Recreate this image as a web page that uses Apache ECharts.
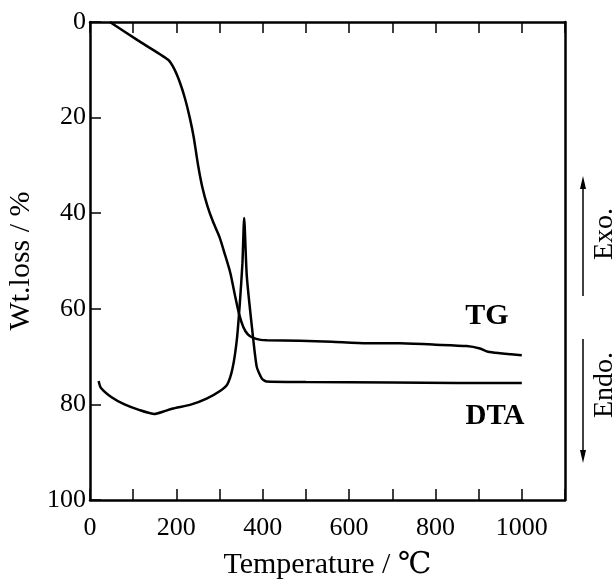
<!DOCTYPE html>
<html>
<head>
<meta charset="utf-8">
<script src="https://cdn.jsdelivr.net/npm/echarts@6/dist/echarts.min.js"></script>
<style>html,body{margin:0;padding:0;background:#fff}#c{width:614px;height:581px}</style>
</head>
<body>
<div id="c"></div>
<script>
// Data
var tgTemp = [46, 110, 181, 195, 208, 220, 231, 240, 250, 260, 272, 285, 300, 312, 325, 336, 345, 355, 365, 378, 395, 410, 486, 560, 640, 718, 800, 872, 903, 922, 949, 975, 1000];
var tgLoss = [0, 3.8, 7.9, 9.8, 12.6, 16, 20, 24, 29.8, 34.5, 38.5, 41.8, 45, 48.5, 52.5, 57.3, 61, 63.8, 65.3, 66.1, 66.5, 66.6, 66.7, 66.9, 67.2, 67.2, 67.5, 67.8, 68.3, 69, 69.3, 69.5, 69.7];
var dtaTemp = [20, 25, 50, 80, 115, 149, 170, 190, 235, 270, 301, 318, 330, 340, 347, 353, 357, 363, 374, 386, 398, 409, 500, 700, 850, 1000];
var dtaVal = [75.1, 76.5, 78.5, 80, 81.2, 82, 81.5, 80.9, 80, 78.8, 77.2, 75.8, 72.5, 66.5, 58.8, 50.5, 41, 53, 63, 72.1, 74.6, 75.2, 75.3, 75.4, 75.5, 75.5];
var xTickLabels = [0, 200, 400, 600, 800, 1000];
var yTickLabels = [0, 20, 40, 60, 80, 100];
var xTitle = 'Temperature / ℃';
var yTitle = 'Wt.loss / %';

function zip(a, b) { return a.map(function (v, i) { return [v, b[i]]; }); }

var serif = '"Liberation Serif", "DejaVu Serif", serif';
var chart = echarts.init(document.getElementById('c'), null, { renderer: 'canvas' });
function line() { return { show: true, onZero: false, lineStyle: { color: '#000', width: 2.5 } }; }
function tick() { return { show: true, inside: true, length: 11, lineStyle: { color: '#000', width: 1.5 } }; }
var option = {
  backgroundColor: '#fff',
  animation: false,
  grid: { left: 90, right: 49, top: 22, bottom: 81, show: false, containLabel: false, outerBoundsMode: 'none' },
  xAxis: [{
    type: 'value', position: 'bottom', min: 0, max: 1100, interval: 100,
    axisLine: line(), axisTick: tick(), splitLine: { show: false },
    axisLabel: {
      color: '#000', fontFamily: serif, fontSize: 26, margin: 15, showMaxLabel: true,
      formatter: function (v) { return xTickLabels.indexOf(v) >= 0 ? String(v) : ''; }
    },
    name: xTitle, nameLocation: 'middle', nameGap: 50,
    nameTextStyle: { color: '#000', fontFamily: serif, fontSize: 30 }
  }, {
    type: 'value', position: 'top', min: 0, max: 1100, interval: 100,
    axisLine: line(), axisTick: tick(), splitLine: { show: false }, axisLabel: { show: false }
  }],
  yAxis: [{
    type: 'value', position: 'left', inverse: true, min: 0, max: 100, interval: 20,
    axisLine: line(), axisTick: tick(), splitLine: { show: false },
    axisLabel: {
      color: '#000', fontFamily: serif, fontSize: 26, margin: 4,
      formatter: function (v) { return yTickLabels.indexOf(v) >= 0 ? String(v) : ''; }
    },
    name: yTitle, nameLocation: 'middle', nameGap: 50, nameRotate: 90,
    nameTextStyle: { color: '#000', fontFamily: serif, fontSize: 30 }
  }, {
    type: 'value', position: 'right', inverse: true, min: 0, max: 100, interval: 20,
    axisLine: line(), axisTick: { show: false }, axisLabel: { show: false }, splitLine: { show: false }
  }],
  series: [{
    name: 'TG', type: 'line', xAxisIndex: 0, yAxisIndex: 0, data: zip(tgTemp, tgLoss),
    showSymbol: false, smooth: 0.2, lineStyle: { color: '#000', width: 2.5 }
  }, {
    name: 'DTA', type: 'line', xAxisIndex: 0, yAxisIndex: 0, data: zip(dtaTemp, dtaVal),
    showSymbol: false, smooth: 0.2, lineStyle: { color: '#000', width: 2.5 }
  }],
  graphic: [
    { type: 'text', x: 487, y: 316, style: { text: 'TG', font: 'bold 30px ' + serif, fill: '#000', align: 'center', verticalAlign: 'middle' } },
    { type: 'text', x: 495, y: 417, style: { text: 'DTA', font: 'bold 29px ' + serif, fill: '#000', align: 'center', verticalAlign: 'middle' } },
    { type: 'text', x: 605, y: 234, rotation: Math.PI / 2, style: { text: 'Exo.', font: '28px ' + serif, fill: '#000', align: 'center', verticalAlign: 'middle' } },
    { type: 'text', x: 605, y: 385, rotation: Math.PI / 2, style: { text: 'Endo.', font: '28px ' + serif, fill: '#000', align: 'center', verticalAlign: 'middle' } },
    { type: 'line', shape: { x1: 583, y1: 184, x2: 583, y2: 296 }, style: { stroke: '#000', lineWidth: 1.5 } },
    { type: 'polygon', shape: { points: [[583, 176], [580, 189], [586, 189]] }, style: { fill: '#000' } },
    { type: 'line', shape: { x1: 583, y1: 339, x2: 583, y2: 455 }, style: { stroke: '#000', lineWidth: 1.5 } },
    { type: 'polygon', shape: { points: [[583, 463], [580, 450], [586, 450]] }, style: { fill: '#000' } }
  ]
};
chart.setOption(option);
</script>
</body>
</html>
